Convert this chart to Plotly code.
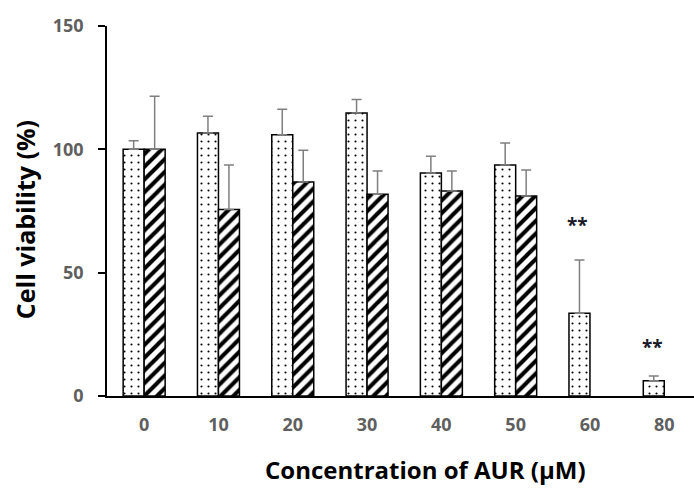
import plotly.graph_objects as go

categories = ["0", "10", "20", "30", "40", "50", "60", "80"]
dotted_values = [100, 106.6, 105.9, 114.7, 90.4, 93.6, 33.5, 6.2]
dotted_errors = [3.5, 6.8, 10.4, 5.5, 6.8, 9.0, 21.6, 1.9]
hatch_values = [100, 75.6, 86.8, 81.8, 83.1, 81.1, None, None]
hatch_errors = [21.5, 18.0, 12.8, 9.4, 8.1, 10.5, 0, 0]
y_ticks = [0, 50, 100, 150]
star_labels = [("60", 69.5), ("80", 19.8)]
x_title = "Concentration of AUR (µM)"
y_title = "Cell viability (%)"

font_family = "Open Sans"

fig = go.Figure()
fig.add_trace(go.Bar(
    x=categories, y=dotted_values,
    marker=dict(color="white", line=dict(color="black", width=1.5),
                pattern=dict(shape=".", fgcolor="black", bgcolor="white", fgopacity=1,
                             fillmode="replace", size=7, solidity=0.07)),
    error_y=dict(type="data", array=dotted_errors, arrayminus=[0]*len(dotted_errors),
                 symmetric=False, color="#7f7f7f", thickness=1.5, width=5),
    showlegend=False,
))
fig.add_trace(go.Bar(
    x=categories, y=hatch_values,
    marker=dict(color="white", line=dict(color="black", width=1.5),
                pattern=dict(shape="/", fgcolor="black", bgcolor="white", fgopacity=1,
                             fillmode="replace", size=9, solidity=0.45)),
    error_y=dict(type="data", array=hatch_errors, arrayminus=[0]*len(hatch_errors),
                 symmetric=False, color="#7f7f7f", thickness=1.5, width=5),
    showlegend=False,
))

for cat, yv in star_labels:
    fig.add_annotation(x=categories.index(cat), y=yv, text="<b>**</b>", showarrow=False, xshift=-12,
                       font=dict(family=font_family, size=19, color="#1a1a2a"),
                       xanchor="center", yanchor="middle")

# axis titles placed as annotations (paper coordinates)
fig.add_annotation(xref="paper", yref="paper", x=0.543, y=-0.198, text=f"<b>{x_title}</b>",
                   showarrow=False, xanchor="center", yanchor="middle",
                   font=dict(family=font_family, size=24, color="black"))
fig.add_annotation(xref="paper", yref="paper", x=-0.1397, y=0.478, text=f"<b>{y_title}</b>",
                   showarrow=False, xanchor="center", yanchor="middle", textangle=-90,
                   font=dict(family=font_family, size=25, color="black"))

fig.update_layout(
    width=694, height=488,
    margin=dict(l=107, r=0, t=26, b=92),
    paper_bgcolor="white", plot_bgcolor="white",
    barmode="group", bargap=0.435, bargroupgap=0,
    font=dict(family=font_family),
)
fig.update_xaxes(
    type="category", range=[-0.5, 7.4], automargin=False,
    showline=True, linecolor="black", linewidth=1.5,
    ticks="", ticklabelstandoff=12,
    tickfont=dict(family=font_family, size=18, color="#5f5f5f", weight="bold"),
    showgrid=False, zeroline=False,
)
fig.update_yaxes(
    range=[0, 150], tickvals=y_ticks, automargin=False,
    showline=True, linecolor="black", linewidth=1.5,
    ticks="outside", ticklen=7, tickwidth=1.5, tickcolor="black",
    ticklabelstandoff=11,
    tickfont=dict(family=font_family, size=18, color="#5f5f5f", weight="bold"),
    showgrid=False, zeroline=False,
)

fig.write_html("out.html", config={"displayModeBar": False},
               post_script="document.body.style.margin='0';document.body.style.overflow='hidden';")
